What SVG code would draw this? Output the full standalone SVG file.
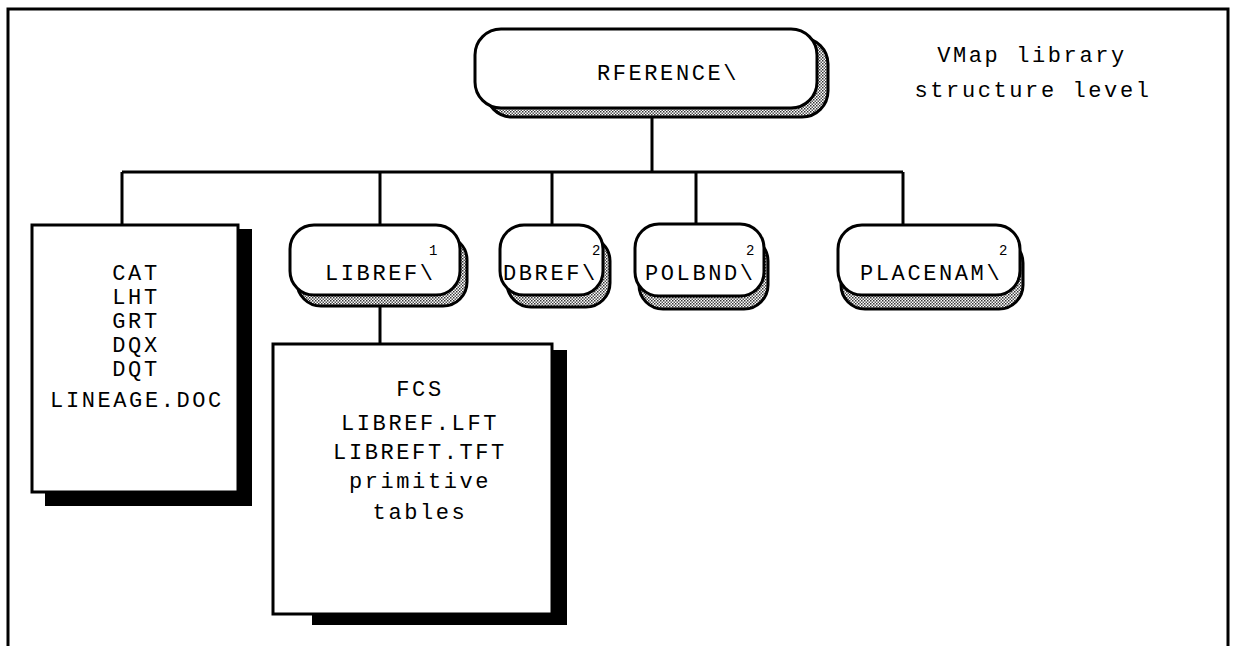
<svg xmlns="http://www.w3.org/2000/svg" width="1236" height="646" viewBox="0 0 1236 646">
  <defs>
    <pattern id="dots" width="3" height="3" patternUnits="userSpaceOnUse">
      <rect width="3" height="3" fill="#ffffff"/>
      <rect width="1.5" height="1.5" fill="#333333"/>
      <rect x="1.5" y="1.5" width="1.5" height="1.5" fill="#555555"/>
    </pattern>
    <style>
      .frame { fill: none; stroke: #000; stroke-width: 3; }
      .wire { fill: none; stroke: #000; stroke-width: 3; }
      .pill { fill: #fff; stroke: #000; stroke-width: 3; }
      .pill-shadow { fill: url(#dots); stroke: #000; stroke-width: 3; }
      .box { fill: #fff; stroke: #000; stroke-width: 3; }
      .box-shadow { fill: #000; }
      .lbl { font-family: "Liberation Mono", "DejaVu Sans Mono", monospace; font-size: 22px; letter-spacing: 2.6px; fill: #000; }
      .mid { text-anchor: middle; }
      .sup { font-family: "Liberation Mono", "DejaVu Sans Mono", monospace; font-size: 14px; fill: #000; }
    </style>
  </defs>

  <rect width="1236" height="646" fill="#fff"/>
  <!-- outer frame, open at the bottom -->
  <path class="frame" d="M8,650 V9 H1228 V650"/>

  <text class="lbl mid" x="1032" y="62">VMap library</text>
  <text class="lbl mid" x="1033" y="97">structure level</text>

  <!-- connectors -->
  <g id="connectors">
    <path class="wire" d="M652,117 V172"/>
    <path class="wire" d="M122,172 H903"/>
    <path class="wire" d="M122,172 V225"/>
    <path class="wire" d="M380,172 V225"/>
    <path class="wire" d="M552,172 V225"/>
    <path class="wire" d="M696,172 V224"/>
    <path class="wire" d="M903,172 V225"/>
    <path class="wire" d="M380,306 V344"/>
  </g>

  <g id="node-rference">
    <rect class="pill-shadow" x="486" y="38" width="342" height="79" rx="26"/>
    <rect class="pill" x="475" y="29" width="342" height="79" rx="26"/>
    <text class="lbl mid" x="668" y="80">RFERENCE\</text>
  </g>

  <g id="node-libref">
    <rect class="pill-shadow" x="297" y="236" width="170" height="70" rx="24"/>
    <rect class="pill" x="290" y="225" width="170" height="70" rx="24"/>
    <text class="lbl" x="325" y="280">LIBREF\</text>
    <text class="sup" x="429" y="255">1</text>
  </g>

  <g id="node-dbref">
    <rect class="pill-shadow" x="507" y="237" width="103" height="70" rx="24"/>
    <rect class="pill" x="500" y="225" width="103" height="70" rx="24"/>
    <text class="lbl" x="503" y="280">DBREF\</text>
    <text class="sup" x="592" y="255">2</text>
  </g>

  <g id="node-polbnd">
    <rect class="pill-shadow" x="639" y="237" width="129" height="72" rx="24"/>
    <rect class="pill" x="635" y="224" width="129" height="72" rx="24"/>
    <text class="lbl" x="645" y="280">POLBND\</text>
    <text class="sup" x="746" y="255">2</text>
  </g>

  <g id="node-placenam">
    <rect class="pill-shadow" x="841" y="239" width="182" height="70" rx="24"/>
    <rect class="pill" x="838" y="225" width="182" height="70" rx="24"/>
    <text class="lbl" x="860" y="280">PLACENAM\</text>
    <text class="sup" x="999" y="255">2</text>
  </g>

  <g id="node-library-files">
    <rect class="box-shadow" x="45" y="229" width="207" height="277"/>
    <rect class="box" x="32" y="225" width="206" height="267"/>
    <text class="lbl mid" x="136" y="280">CAT</text>
    <text class="lbl mid" x="136" y="304">LHT</text>
    <text class="lbl mid" x="136" y="328">GRT</text>
    <text class="lbl mid" x="136" y="352">DQX</text>
    <text class="lbl mid" x="136" y="376">DQT</text>
    <text class="lbl mid" x="137" y="407">LINEAGE.DOC</text>
  </g>

  <g id="node-libref-files">
    <rect class="box-shadow" x="312" y="350" width="255" height="275"/>
    <rect class="box" x="273" y="344" width="279" height="270"/>
    <text class="lbl mid" x="420" y="396">FCS</text>
    <text class="lbl mid" x="420" y="430">LIBREF.LFT</text>
    <text class="lbl mid" x="420" y="459">LIBREFT.TFT</text>
    <text class="lbl mid" x="420" y="488">primitive</text>
    <text class="lbl mid" x="420" y="519">tables</text>
  </g>
</svg>
